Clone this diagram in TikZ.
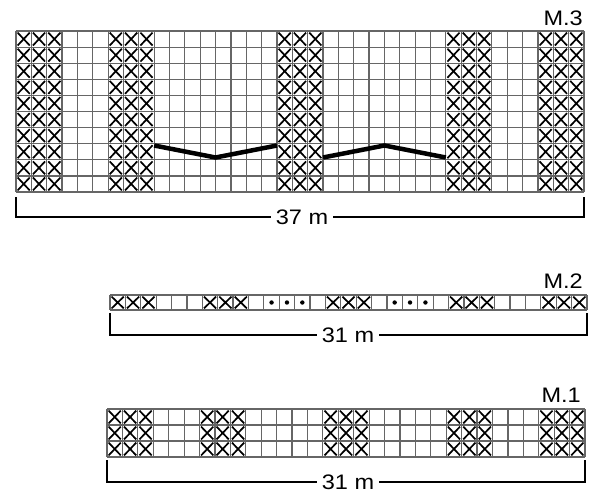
\documentclass[tikz,border=0pt]{standalone}
\usepackage{fontspec}
\setmainfont{Liberation Sans}
\newcommand\txt[1]{\scalebox{1.12}[1]{#1}}
\newcommand\mychart[7]{%
  % #1 x0, #2 y0, #3 cell width, #4 row height, #5 ncols, #6 nrows, #7 X columns
  \foreach \c in {0,...,#5}{\draw[gridline] ({#1+\c*#3},#2) -- ({#1+\c*#3},{#2+#6*#4});}
  \foreach \r in {0,...,#6}{\draw[gridline] (#1,{#2+\r*#4}) -- ({#1+#5*#3},{#2+\r*#4});}
  \foreach \r in {1,...,#6}{\foreach \c in {#7}{%
    \draw[cross] ({#1+\c*#3+1.6},{#2+(\r-1)*#4+1.6}) -- ({#1+(\c+1)*#3-1.6},{#2+\r*#4-1.6})
                 ({#1+\c*#3+1.6},{#2+\r*#4-1.6}) -- ({#1+(\c+1)*#3-1.6},{#2+(\r-1)*#4+1.6});}}%
}
\begin{document}
\begin{tikzpicture}[x=1pt,y=-1pt,
  gridline/.style={draw=black!60,line width=1.2pt},
  cross/.style={draw=black,line width=1.7pt},
  bracket/.style={draw=black,line width=2.2pt},
  cable/.style={draw=black,line width=4.5pt},
  lbl/.style={font=\fontsize{21}{24}\selectfont,inner sep=0pt,anchor=base east},
  dim/.style={font=\fontsize{21}{24}\selectfont,fill=white,inner xsep=5pt,inner ysep=2pt,anchor=base}]
\useasboundingbox (0,0) rectangle (600,501);

% ---- M.3 ----
\mychart{16}{31}{15.351}{16.1}{37}{10}{0,1,2,6,7,8,17,18,19,28,29,30,34,35,36}
\draw[cable] ({16+9*15.351},145.5) -- ({16+13*15.351},157.5) -- ({16+17*15.351},145.5);
\draw[cable] ({16+20*15.351},157.5) -- ({16+24*15.351},145.5) -- ({16+28*15.351},157.5);
\node[lbl] (m3) at (583,25) {\txt{M.3}};
\coordinate (m3a) at (16,197);
\coordinate (m3b) at (16,217);
\coordinate (m3c) at (584,217);
\coordinate (m3d) at (584,197);
\draw[bracket] (m3a) -- (m3b) -- (m3c) -- (m3d);
\node[dim] (m3dim) at (302,224) {\txt{37 m}};

% ---- M.2 ----
\mychart{110}{295}{15.387}{15}{31}{1}{0,1,2,6,7,8,14,15,16,22,23,24,28,29,30}
\foreach \c in {10,11,12,18,19,20}{\fill ({110+(\c+0.5)*15.387},302.5) circle (2.2);}
\node[lbl] (m2) at (583,288) {\txt{M.2}};
\coordinate (m2a) at (110,313);
\coordinate (m2b) at (110,335);
\coordinate (m2c) at (587,335);
\coordinate (m2d) at (587,313);
\draw[bracket] (m2a) -- (m2b) -- (m2c) -- (m2d);
\node[dim] (m2dim) at (348,342) {\txt{31 m}};

% ---- M.1 ----
\mychart{107}{409}{15.42}{16}{31}{3}{0,1,2,6,7,8,14,15,16,22,23,24,28,29,30}
\node[lbl] (m1) at (581,402) {\txt{M.1}};
\coordinate (m1a) at (107,460);
\coordinate (m1b) at (107,482);
\coordinate (m1c) at (585,482);
\coordinate (m1d) at (585,460);
\draw[bracket] (m1a) -- (m1b) -- (m1c) -- (m1d);
\node[dim] (m1dim) at (348,489) {\txt{31 m}};
\end{tikzpicture}
\end{document}
